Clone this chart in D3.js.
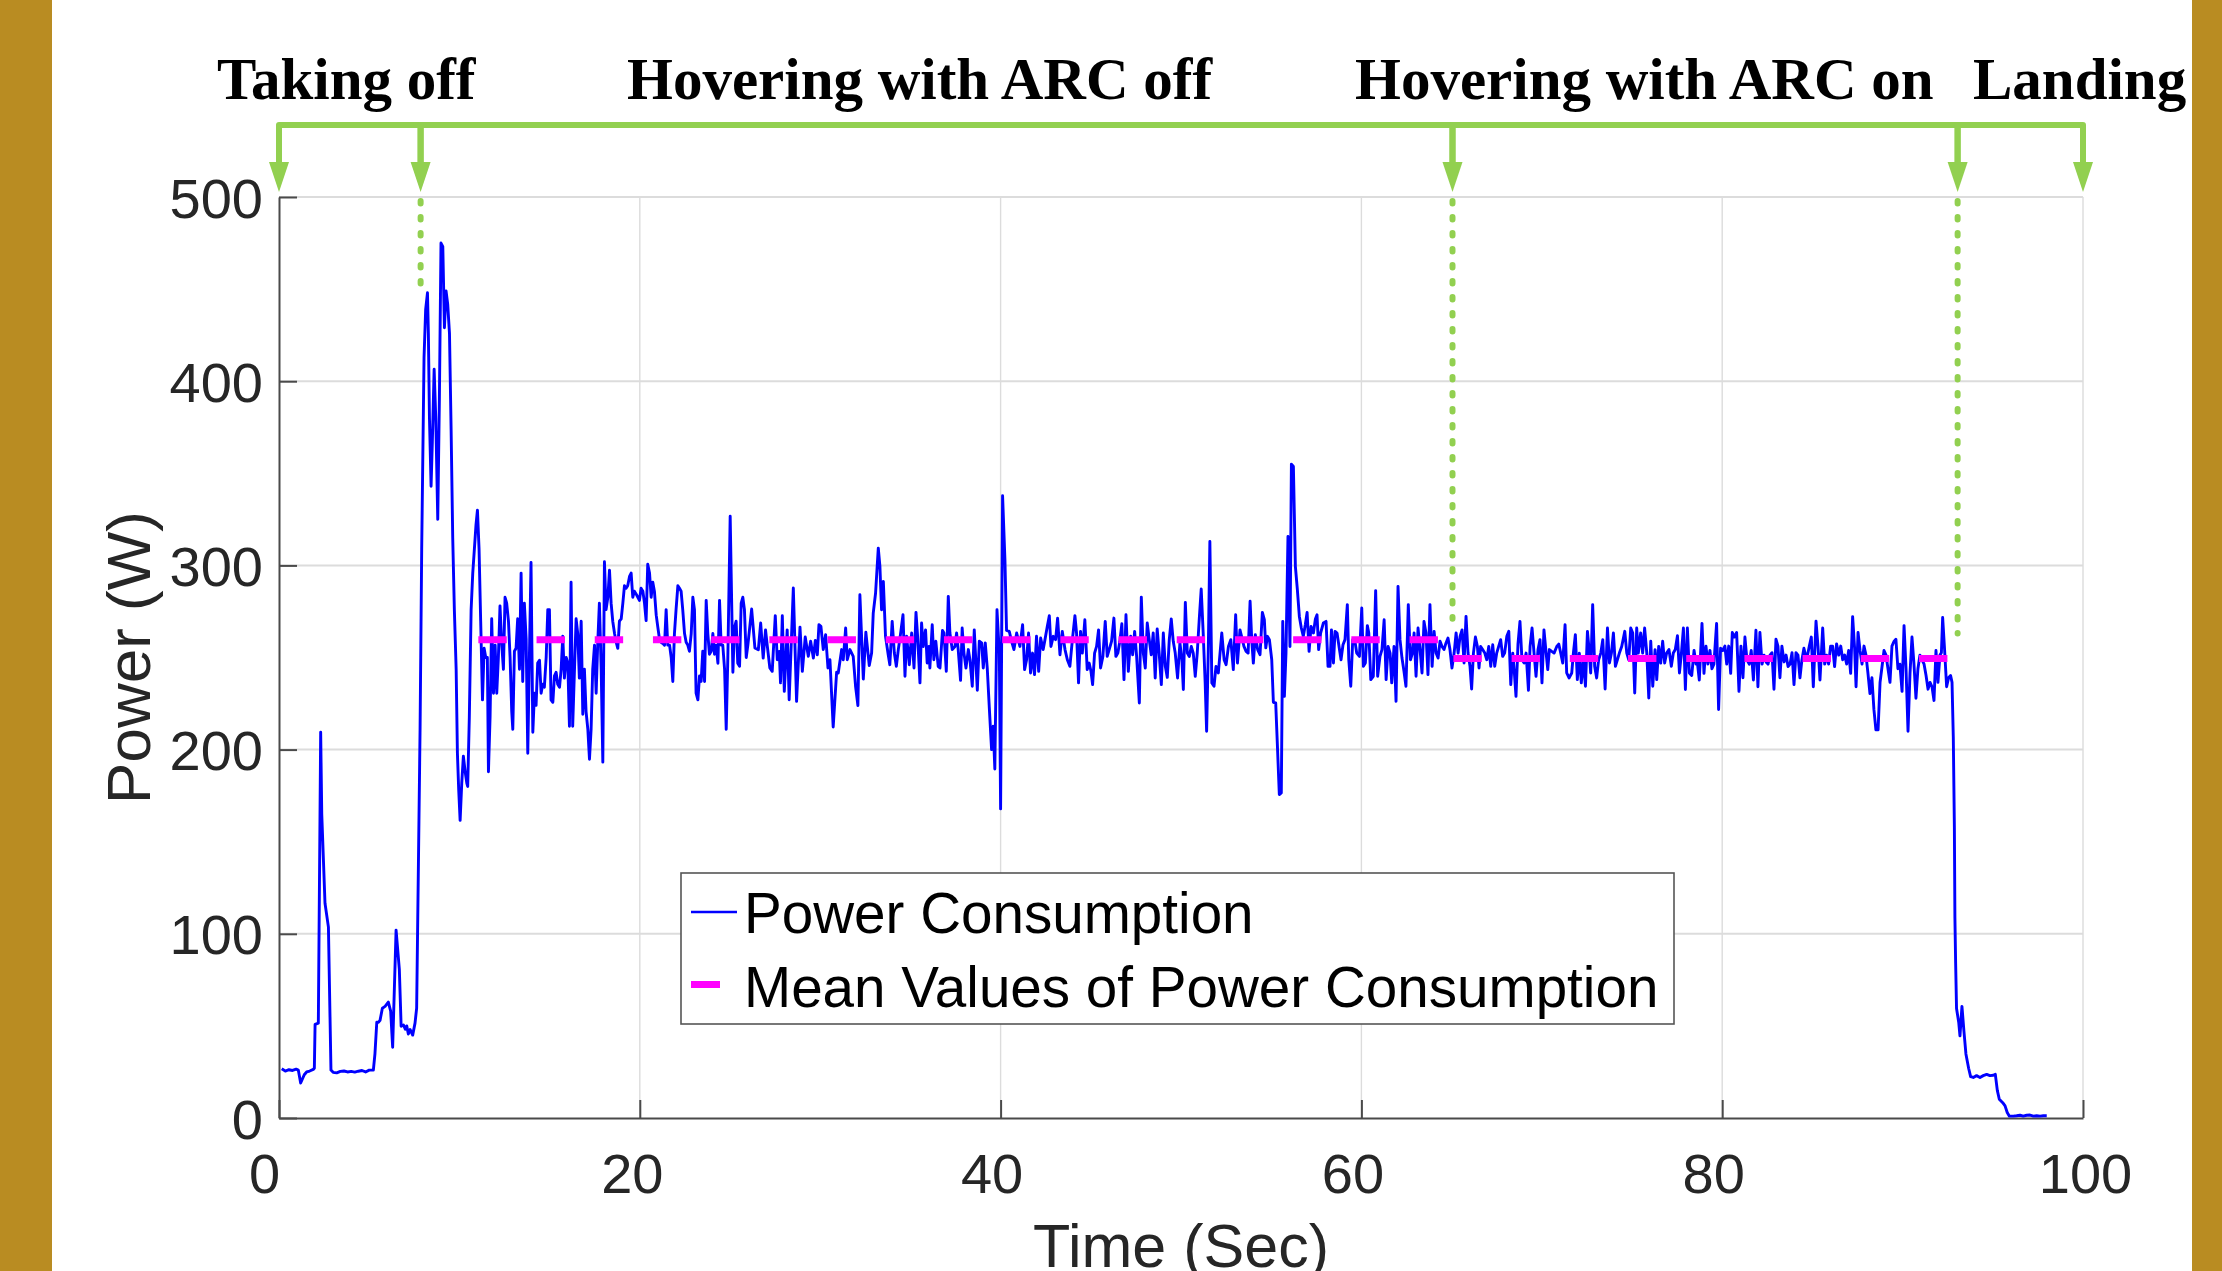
<!DOCTYPE html>
<html>
<head>
<meta charset="utf-8">
<title>Power Consumption</title>
<script src="https://d3js.org/d3.v7.min.js"></script>
<style>
  html, body { margin: 0; padding: 0; background: #ffffff; }
  svg { display: block; }
</style>
</head>
<body>
<svg id="chart" width="2222" height="1271"></svg>
<script>
// ---- data -------------------------------------------------------------
// [time in seconds, power in watts]
const powerSamples = [
  [0.15,26.7],[0.35,25.5],[0.55,26.2],[0.75,25.8],[0.95,26.5],[1.07,26.0],[1.2,19.0],[1.4,23.5],[1.53,25.0],[1.7,25.5],
  [1.9,26.4],[1.96,27],[2.0,50.8],[2.18,51.5],[2.31,209.4],[2.37,165],[2.55,116.6],[2.74,103.6],[2.88,26.0],[3.0,24.8],
  [3.2,24.5],[3.4,25.3],[3.6,25.5],[3.8,25.0],[4.0,25.3],[4.2,24.9],[4.4,25.4],[4.6,25.8],[4.8,25.0],[5.0,26.0],
  [5.23,26.0],[5.32,35],[5.42,52],[5.52,52],[5.6,53],[5.73,59.6],[5.88,60.6],[6.06,62.9],[6.19,58],[6.3,38.4],
  [6.49,102],[6.67,80.8],[6.77,49.8],[6.9,50.5],[7.0,48.2],[7.08,50],[7.17,45.6],[7.27,48],[7.41,45],[7.54,51.5],
  [7.63,59.6],[7.82,211],[7.91,308.8],[8.04,413],[8.13,439],[8.23,448],[8.28,426],[8.34,380],[8.43,343],[8.5,367],
  [8.6,406.5],[8.69,380],[8.8,325],[8.89,390],[8.98,475],[9.08,473],[9.17,429],[9.26,449],[9.35,442],[9.45,426],
  [9.54,374],[9.63,315],[9.72,276],[9.82,243.6],[9.89,198],[9.96,178.5],[10.04,161.6],[10.13,181.8],[10.22,196.4],[10.32,188],
  [10.41,181.8],[10.46,180],[10.55,217.6],[10.65,276],[10.74,295.8],[10.83,308.8],[10.92,322],[11.0,330],[11.09,308.8],[11.18,269.7],
  [11.28,227],[11.37,255],[11.46,250],[11.55,250],[11.61,188],[11.7,217.6],[11.79,271],[11.89,230.6],[11.98,256.7],[12.07,230.6],
  [12.16,250],[12.25,278],[12.35,256.7],[12.44,243.6],[12.53,282.7],[12.62,279.5],[12.72,269.7],[12.81,250],[12.9,220.8],[12.96,211],
  [13.05,253.4],[13.14,255],[13.23,271],[13.33,243.6],[13.42,295.8],[13.51,237],[13.6,279.5],[13.7,260],[13.79,198],[13.88,250],
  [13.97,301.6],[14.07,209.4],[14.16,230.6],[14.25,224],[14.34,247],[14.44,248.5],[14.53,230.6],[14.62,235.5],[14.71,233.9],[14.81,250],
  [14.9,276],[14.99,276],[15.08,227],[15.18,225.7],[15.27,240],[15.36,242],[15.45,235.5],[15.55,233.9],[15.64,243.6],[15.73,261.6],
  [15.82,238.8],[15.92,250],[16.01,246.9],[16.1,212.7],[16.19,290.9],[16.28,212.7],[16.38,243.6],[16.47,271],[16.56,263],[16.65,238.8],
  [16.75,269.7],[16.84,219.2],[16.93,243.6],[17.02,220.8],[17.12,211],[17.21,194.8],[17.3,211],[17.39,243.6],[17.49,256.7],[17.58,230.6],
  [17.67,258.3],[17.76,279.5],[17.86,243.6],[17.95,193.2],[18.04,302],[18.13,276],[18.23,282.7],[18.32,297.4],[18.41,279.5],[18.5,269.7],
  [18.6,263],[18.69,258.3],[18.78,255],[18.87,269.7],[18.97,271],[19.06,279.5],[19.15,289],[19.24,287.6],[19.33,289],[19.43,294],
  [19.52,295.8],[19.61,282.7],[19.7,286],[19.8,284.4],[19.89,282.7],[19.98,281],[20.07,287.6],[20.17,286],[20.26,279.5],[20.35,270],
  [20.44,300.6],[20.54,295.8],[20.63,282.7],[20.72,290.9],[20.81,286],[20.91,273],[21.0,266.4],[21.09,260],[21.18,258.3],[21.28,257.6],
  [21.37,256.7],[21.46,276],[21.55,256.7],[21.65,256.7],[21.74,250],[21.83,237],[21.92,263],[22.01,276],[22.11,289],[22.2,287.6],
  [22.29,286],[22.38,276],[22.48,263],[22.57,258.3],[22.66,256.7],[22.75,253.4],[22.85,263],[22.94,282.7],[23.03,276],[23.12,230.6],
  [23.22,227],[23.31,240],[23.4,237],[23.49,253.4],[23.59,237],[23.68,281],[23.77,263],[23.86,251.8],[23.96,253.4],[24.05,263],
  [24.14,251.8],[24.23,256.7],[24.33,246.9],[24.42,281],[24.51,256.7],[24.6,256.7],[24.7,243.6],[24.79,211],[24.88,250],[25.01,326.7],
  [25.1,276],[25.16,242],[25.25,266.4],[25.34,269.7],[25.43,246.9],[25.53,245.3],[25.62,279.5],[25.71,282.7],[25.8,276],[25.9,250],
  [25.99,256.7],
  [26.20,276.3],[26.38,255.2],[26.57,254.2],[26.70,268.7],[26.84,249.7],[26.97,265],[27.07,256],[27.21,244.3],[27.34,242.5],[27.51,272.7],
  [27.62,248.8],[27.73,253.3],[27.80,236.2],[27.90,272.7],[28.01,231.6],[28.17,265],[28.28,227.1],[28.51,287.7],[28.69,226.2],[28.88,266.5],
  [29.01,242.5],[29.17,261.1],[29.34,250.6],[29.47,258.8],[29.62,249.7],[29.73,259.3],[29.84,251.5],[29.93,267.8],[30.04,266.9],[30.17,254.3],
  [30.30,262.4],[30.43,244.3],[30.54,248.8],[30.72,212.3],[30.91,242],[31.00,241.6],[31.19,254.3],[31.28,248.8],[31.41,266],[31.50,248.8],
  [31.65,254.3],[31.83,250.6],[31.96,234.4],[32.09,223.9],[32.20,284.1],[32.39,238.3],[32.53,263.7],[32.72,245.6],[32.85,252.4],[32.94,274.1],
  [33.07,285],[33.22,309.4],[33.31,299.5],[33.40,275.9],[33.50,291.3],[33.62,261.5],[33.77,251.5],[33.86,246.1],[33.99,269.6],[34.11,252.4],
  [34.22,245.2],[34.33,254.3],[34.46,263.3],[34.59,273.2],[34.70,239.8],[34.79,261.5],[34.94,246.1],[35.07,263.3],[35.20,244.3],[35.31,274.5],
  [35.40,261.5],[35.53,236.2],[35.62,268.7],[35.71,256],[35.84,265],[35.93,247],[36.03,256],[36.08,244.3],[36.21,267.8],[36.30,248.8],
  [36.41,258.8],[36.54,245.2],[36.64,244.3],[36.78,264.7],[36.86,263.3],[36.99,242.5],[37.10,283.2],[37.19,263.3],[37.32,254.3],[37.47,256],
  [37.56,263.3],[37.65,254.3],[37.78,237.6],[37.87,266],[37.97,252.4],[38.08,244.3],[38.21,254.3],[38.30,248.8],[38.43,234.4],[38.54,265],
  [38.71,232.2],[38.82,258.8],[38.95,257.9],[39.04,244.3],[39.15,257.9],[39.26,244.3],[39.37,223.5],[39.50,200],[39.59,212.7],[39.68,189.5],
  [39.80,275.9],[39.93,252.4],[40.00,167.8],[40.11,337.8],[40.24,303.1],[40.33,264.7],[40.48,264.2],[40.61,258.8],[40.74,254.3],[40.89,263.3],
  [41.07,256],[41.22,267.8],[41.33,243.4],[41.44,248.8],[41.55,263.3],[41.66,241.6],[41.77,252.4],[41.88,240.7],[41.99,261.5],[42.11,242.5],
  [42.22,260.6],[42.36,254.3],[42.46,259.7],[42.59,266.9],[42.70,272.7],[42.79,256],[42.92,261.5],[43.05,259.7],[43.16,271.4],[43.29,251.5],
  [43.42,264.2],[43.57,254.3],[43.70,248.8],[43.84,245.2],[43.97,258.8],[44.12,272.7],[44.21,263.3],[44.32,236.2],[44.43,264.2],[44.53,252.4],
  [44.67,270.5],[44.80,243.4],[44.91,247],[45.01,242.5],[45.10,235.3],[45.21,252.4],[45.32,256],[45.43,265],[45.54,244.3],[45.67,250.6],
  [45.80,269.6],[45.91,250.6],[46.02,254.3],[46.15,258.8],[46.28,271.4],[46.39,250.6],[46.50,252.4],[46.61,258.8],[46.72,268.3],[46.84,238],
  [46.95,273.2],[47.08,242.5],[47.21,261.5],[47.32,251.5],[47.43,264.2],[47.54,250.6],[47.69,225.3],[47.80,282.8],[47.91,252.4],[48.02,244.3],
  [48.13,268.7],[48.24,259.7],[48.35,251.5],[48.46,263.3],[48.57,238.9],[48.68,265.5],[48.79,252.4],[48.91,235.3],[49.02,263.3],[49.13,245.2],
  [49.24,239.2],[49.35,259.7],[49.46,270.9],[49.57,258.8],[49.68,252.4],[49.81,238.9],[49.94,257.9],[50.05,248.8],[50.13,232.6],[50.24,279.9],
  [50.35,252.4],[50.46,250.6],[50.57,256],[50.68,252.4],[50.79,239.8],[50.90,252.4],[51.01,270.5],[51.12,287.2],[51.23,263.3],[51.34,236.2],
  [51.42,210],[51.51,252.4],[51.60,313],[51.71,236.2],[51.83,234.4],[51.94,245.2],[52.07,241.6],
  [52.26,263.3],[52.39,248.8],[52.50,246.1],[52.63,256],[52.76,259.7],[52.90,243.4],[53.03,273.2],[53.13,247],[53.27,265],[53.38,260.6],
  [53.49,256],[53.61,253.3],[53.72,252.4],[53.83,280.5],[53.92,259.7],[54.01,247],[54.12,262.4],[54.25,254.3],[54.38,251.5],[54.51,274.5],
  [54.62,270.5],[54.70,255.2],[54.79,261.5],[54.90,259.7],[55.03,248.8],[55.12,225.7],[55.25,225.3],[55.36,198.2],[55.45,175.6],[55.56,176.5],
  [55.64,269.6],[55.73,228.9],[55.82,252.4],[55.93,315.7],[56.04,256],[56.12,355],[56.23,353.7],[56.34,299.5],[56.45,286.8],[56.56,272.3],
  [56.67,266],[56.78,261.5],[56.89,267.8],[56.99,274.5],[57.10,253.3],[57.21,266.9],[57.34,263.3],[57.45,270.9],[57.54,273.2],[57.63,254.3],
  [57.74,263.3],[57.89,268.7],[58.04,269.6],[58.15,245.2],[58.26,245.2],[58.34,265],[58.45,247],[58.54,264.2],[58.65,263.3],[58.76,256],
  [58.87,248.8],[58.98,256.9],[59.09,259.7],[59.22,278.7],[59.30,248.8],[59.41,234.4],[59.52,259.7],[59.63,259.7],[59.74,252.4],[59.89,250.6],
  [60.02,276.9],[60.11,245.2],[60.22,247],[60.33,267.3],[60.41,263.3],[60.52,238],[60.66,239.8],[60.79,286.3],[60.90,239.8],[61.03,250.6],
  [61.14,254.3],[61.26,270.5],[61.37,238],[61.48,256],[61.59,252.4],[61.68,236.2],[61.81,256],[61.92,226.2],[62.03,288.6],[62.14,259.7],
  [62.25,249.7],[62.36,242.5],[62.47,234.4],[62.60,278.7],[62.72,248.8],[62.83,252.4],[62.92,263.3],[63.03,239.8],[63.14,266],[63.25,254.3],
  [63.36,241.6],[63.47,269.6],[63.58,263.3],[63.69,240.7],[63.80,278.7],[63.92,245.2],[64.03,264.2],[64.14,252.4],[64.25,249.7],[64.36,258.8],
  [64.47,256],[64.58,254.3],[64.69,257.9],[64.80,260.6],[64.91,254.3],[65.02,244.3],[65.14,252.4],[65.25,263.3],[65.36,252.4],[65.47,261.5],
  [65.58,265],[65.69,247],[65.80,272.3],[65.91,252.4],[66.02,245.2],[66.11,232.9],[66.21,252.4],[66.32,261.1],[66.43,256],[66.52,244.3],
  [66.61,256],[66.72,254.3],[66.84,252.4],[66.95,248.8],[67.06,256],[67.17,245.2],[67.28,256.9],[67.39,245.2],[67.50,252.4],[67.61,256],
  [67.72,259.7],[67.83,250.6],[67.94,252.4],[68.06,261.5],[68.17,264.2],[68.28,235.3],[68.39,252.4],[68.48,241.6],[68.57,228.9],[68.68,257.3],
  [68.79,269.6],[68.90,248.8],[69.02,247],[69.13,252.4],[69.26,232.2],[69.35,256],[69.46,266],[69.57,252.4],[69.68,239.8],[69.79,254.3],
  [69.90,259.7],[70.01,236.2],[70.12,265],[70.24,252.4],[70.33,243.4],[70.42,254.3],[70.55,253.3],[70.68,252.4],[70.83,256],[70.94,257.3],
  [71.05,252.4],[71.16,247],[71.29,267.8],[71.38,241.6],[71.51,238.9],[71.66,241.6],[71.75,252.4],[71.86,262.4],[71.97,238],[72.08,252.4],
  [72.19,236.2],[72.30,248.8],[72.42,234.4],[72.53,264.2],[72.64,252.4],[72.71,241.6],[72.82,278.7],[72.93,245.2],[73.04,238.9],[73.15,248.8],
  [73.27,252.4],[73.38,259.7],[73.51,232.9],[73.64,266],[73.75,247],[73.86,252.4],[73.97,263.3],[74.08,245.2],[74.19,248.8],[74.30,252.4],
  [74.43,256],[74.60,264.2],[74.71,252.4],[74.82,248.8],[74.93,266],[75.04,263.3],[75.15,230.7],[75.26,266],[75.35,252.4],[75.48,263.3],
  [75.59,252.4],[75.70,266],[75.82,252.4],[75.93,228],[76.04,258.8],[76.15,234.4],[76.28,254.3],[76.37,238],[76.48,256],[76.59,247],
  [76.70,258.8],[76.81,247],[76.92,252.4],[77.05,254.3],[77.18,245.2],[77.29,252.4],[77.40,254.3],[77.52,261.8],[77.63,241.6],[77.74,252.4],
  [77.85,266],[77.96,232.6],[78.07,266],[78.18,241.6],
  [78.31,240.2],[78.44,253.8],[78.55,246.4],[78.62,247.6],[78.73,237.8],[78.88,268.5],[78.99,241.4],[79.10,256.2],[79.21,246.4],[79.32,253.8],
  [79.43,243.9],[79.54,246.4],[79.69,268.5],[79.80,221.8],[79.91,255],[80.03,253.8],[80.15,256.2],[80.25,246.4],[80.36,256.2],[80.47,241.4],
  [80.56,263.6],[80.67,261.1],[80.80,263.6],[80.93,231.6],[81.04,256.2],[81.15,239],[81.26,261.1],[81.37,248.8],[81.50,246.4],[81.61,253.8],
  [81.73,237.8],[81.87,264.8],[81.98,234.1],[82.09,263.6],[82.21,246.4],[82.32,251.3],[82.43,247.6],[82.54,246.4],[82.65,251.3],[82.76,252.6],
  [82.87,232.8],[82.98,259.9],[83.09,256.2],[83.20,239],[83.31,256.2],[83.43,247.6],[83.54,251.3],[83.65,245.1],[83.76,246.4],[83.87,252.6],
  [83.98,235.3],[84.09,252.6],[84.20,251.3],[84.31,239],[84.42,248.8],[84.53,255],[84.68,248.8],[84.83,256.2],[84.94,261.1],[85.05,234.1],
  [85.20,269.7],[85.31,256.2],[85.42,237.8],[85.57,266],[85.68,246.4],[85.79,251.3],[85.90,246.4],[86.01,256.2],[86.12,256.2],[86.23,245.1],
  [86.34,257.4],[86.46,251.3],[86.57,256.2],[86.68,248.8],[86.79,251.3],[86.90,246.4],[87.01,253.8],[87.12,241.4],[87.23,272.2],[87.34,255],
  [87.42,234.1],[87.53,263.6],[87.64,253.8],[87.75,246.4],[87.86,256.2],[87.97,251.3],[88.08,241.4],[88.19,230.4],[88.30,239],[88.41,221.8],
  [88.52,210.7],[88.64,210.7],[88.75,236.5],[88.86,245.1],[88.97,253.8],[89.08,251.3],[89.19,243.9],[89.30,236.5],[89.41,256.2],[89.52,258.7],
  [89.63,259.9],[89.74,243.9],[89.85,246.4],[89.97,231.6],[90.08,267.3],[90.19,243.9],[90.30,210],[90.41,241.4],[90.52,261.1],[90.63,246.4],
  [90.74,227.9],[90.85,243.9],[90.96,251.3],[91.07,248.8],[91.19,246.4],[91.30,240.2],[91.41,232.8],[91.52,236.5],[91.63,234.1],[91.74,226.7],
  [91.85,253.8],[91.96,236.5],[92.07,251.3],[92.15,252.6],[92.22,271.7],[92.33,253.8],[92.44,234.1],[92.55,239],[92.66,240.2],[92.74,236.5],
  [92.81,207],[92.87,157.8],[92.90,108.6],[92.94,84],[92.99,59.4],[93.11,52],[93.18,44.6],[93.29,60.6],[93.40,47.1],[93.51,34.8],
  [93.66,27],[93.77,22.5],[93.92,22],[94.10,23],[94.29,22],[94.47,23],[94.66,23.7],[94.84,23],[95.03,23.2],[95.14,23.7],
  [95.25,15],[95.36,10.2],[95.55,8.3],[95.68,6.6],[95.80,3],[95.92,1],[96.14,1],[96.32,1.2],[96.51,1.5],[96.69,1],
  [96.88,1.5],[97.06,1.6],[97.25,1],[97.43,1.2],[97.62,1],[97.80,1.2],[97.99,1.2]
];

// mean power over each hovering phase
const meanStarts = [11.05, 65.1];
const meanEnds   = [65.0, 93.1];
const meanValues = [259.6, 249.5];

// flight phases and their boundaries (s)
const phaseNames  = ["Taking off", "Hovering with ARC off", "Hovering with ARC on", "Landing"];
const phaseBounds = [0, 7.85, 65.05, 93.05, 100];
// lower end (W) of the dotted guide under each boundary arrow
const guideEnds   = [null, 453, 271, 263, null];

const xTicks = [0, 20, 40, 60, 80, 100];
const yTicks = [0, 100, 200, 300, 400, 500];
const legendLabels = ["Power Consumption", "Mean Values of Power Consumption"];
const xTitle = "Time (Sec)";
const yTitle = "Power (W)";

// ---- layout -----------------------------------------------------------
const W = 2222, H = 1271;
const plot = { left: 279, right: 2083, top: 197, bottom: 1118 };
const sansFont = "'Liberation Sans', Arial, Helvetica, sans-serif";
const serifFont = "'Liberation Serif', 'Times New Roman', Times, serif";
const green = "#92d050";
const axisColor = "#4a4a4a";
const gridColor = "#dcdcdc";

const svg = d3.select("#chart");
svg.append("rect").attr("width", W).attr("height", H).attr("fill", "#ffffff");

const x = d3.scaleLinear().domain([0, 100]).range([plot.left, plot.right]);
const y = d3.scaleLinear().domain([0, 500]).range([plot.bottom, plot.top]);

// grid
const grid = svg.append("g");
grid.selectAll("line.hg").data(yTicks.filter(v => v > 0)).join("line")
  .attr("x1", plot.left).attr("x2", plot.right)
  .attr("y1", d => y(d)).attr("y2", d => y(d))
  .attr("stroke", gridColor).attr("stroke-width", 2);
grid.selectAll("line.vg").data(xTicks.filter(v => v > 0)).join("line")
  .attr("x1", d => x(d)).attr("x2", d => x(d))
  .attr("y1", plot.top).attr("y2", plot.bottom)
  .attr("stroke", gridColor).attr("stroke-width", 1.4);

// axes
const yAxis = svg.append("g").attr("transform", `translate(${plot.left},0)`)
  .call(d3.axisLeft(y).tickValues(yTicks).tickSizeInner(-18).tickSizeOuter(0).tickPadding(16));
const xAxis = svg.append("g").attr("transform", `translate(0,${plot.bottom})`)
  .call(d3.axisBottom(x).tickValues(xTicks).tickSizeInner(-18).tickSizeOuter(0).tickPadding(35));

[yAxis, xAxis].forEach(g => {
  g.select(".domain").attr("stroke", axisColor).attr("stroke-width", 2);
  g.selectAll(".tick line").attr("stroke", axisColor).attr("stroke-width", 2);
  g.selectAll(".tick text")
    .attr("fill", "#262626")
    .style("font-family", sansFont)
    .style("font-size", "56px");
});
yAxis.selectAll(".tick text").attr("dy", "0.36em");
// small horizontal nudges of the time labels
const xLabelNudge = { 0: -15, 20: -8, 40: -9, 60: -9, 80: -9, 100: 2 };
xAxis.selectAll(".tick text").attr("dx", d => xLabelNudge[d] || 0);

// axis titles
svg.append("text")
  .attr("x", (plot.left + plot.right) / 2).attr("y", 1267)
  .attr("text-anchor", "middle")
  .attr("fill", "#262626")
  .style("font-family", sansFont).style("font-size", "61px")
  .text(xTitle);
svg.append("text")
  .attr("transform", `translate(150,${(plot.top + plot.bottom) / 2}) rotate(-90)`)
  .attr("text-anchor", "middle")
  .attr("fill", "#262626")
  .style("font-family", sansFont).style("font-size", "62px")
  .text(yTitle);

// power trace
const line = d3.line().x(d => x(d[0])).y(d => y(d[1]));
svg.append("path")
  .datum(powerSamples)
  .attr("d", line)
  .attr("fill", "none")
  .attr("stroke", "#0000ff")
  .attr("stroke-width", 2.9)
  .attr("stroke-linejoin", "round");

// mean values (dashed)
svg.append("g").selectAll("line").data(meanValues).join("line")
  .attr("x1", (d, i) => x(meanStarts[i]))
  .attr("x2", (d, i) => x(meanEnds[i]))
  .attr("y1", d => y(d)).attr("y2", d => y(d))
  .attr("stroke", "#ff00ff")
  .attr("stroke-width", 7)
  .attr("stroke-dasharray", "28.4 29.8");

// dotted guides below the phase arrows
svg.append("g").selectAll("line")
  .data(phaseBounds.map((t, i) => ({ t, end: guideEnds[i] })).filter(d => d.end !== null))
  .join("line")
  .attr("x1", d => x(d.t)).attr("x2", d => x(d.t))
  .attr("y1", y(500) + 4).attr("y2", d => y(d.end))
  .attr("stroke", green)
  .attr("stroke-width", 6)
  .attr("stroke-linecap", "round")
  .attr("stroke-dasharray", "2.4 13.6");

// legend
const lg = svg.append("g");
lg.append("rect")
  .attr("x", 681).attr("y", 873).attr("width", 993).attr("height", 151)
  .attr("fill", "#ffffff").attr("stroke", "#555555").attr("stroke-width", 1.6);
lg.append("line")
  .attr("x1", 691).attr("x2", 737).attr("y1", 912).attr("y2", 912)
  .attr("stroke", "#0000ff").attr("stroke-width", 2.5);
lg.append("rect")
  .attr("x", 691).attr("y", 981).attr("width", 29).attr("height", 7)
  .attr("fill", "#ff00ff");
lg.selectAll("text").data(legendLabels).join("text")
  .attr("x", 744).attr("y", (d, i) => 933 + i * 74)
  .attr("fill", "#000000")
  .style("font-family", sansFont).style("font-size", "56.6px")
  .text(d => d);

// phase brackets with arrows
const bracketY = 125, headTop = 162, headTip = 192;
const br = svg.append("g");
for (let i = 0; i < phaseNames.length; i++) {
  const a = x(phaseBounds[i]), b = x(phaseBounds[i + 1]);
  br.append("path")
    .attr("d", `M${a},${headTop} L${a},${bracketY} L${b},${bracketY} L${b},${headTop}`)
    .attr("fill", "none")
    .attr("stroke", green)
    .attr("stroke-width", 6)
    .attr("stroke-linejoin", "round");
}
br.selectAll("path.head").data(phaseBounds).join("path")
  .attr("d", d => {
    const c = x(d);
    return `M${c - 10},${headTop} L${c + 10},${headTop} L${c},${headTip} Z`;
  })
  .attr("fill", green);

// phase names
const phaseLabelX = [217, 627, 1355, 1973];
svg.append("g").selectAll("text").data(phaseNames).join("text")
  .attr("x", (d, i) => phaseLabelX[i]).attr("y", 99)
  .attr("fill", "#000000")
  .style("font-family", serifFont).style("font-weight", "bold").style("font-size", "59px")
  .text(d => d);

// side bands
svg.append("rect").attr("x", 0).attr("y", 0).attr("width", 52).attr("height", H).attr("fill", "#b98c22");
svg.append("rect").attr("x", 2192).attr("y", 0).attr("width", W - 2192).attr("height", H).attr("fill", "#b98c22");
</script>
</body>
</html>
